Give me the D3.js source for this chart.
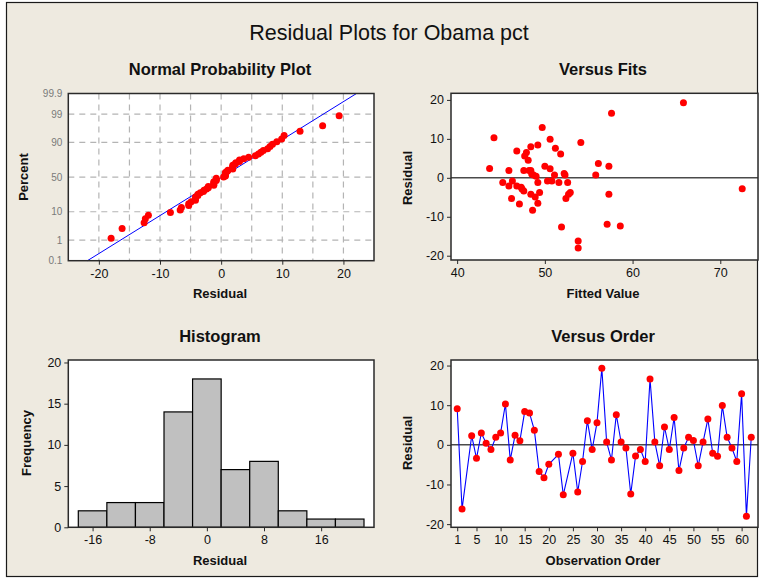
<!DOCTYPE html>
<html>
<head>
<meta charset="utf-8">
<script src="https://cdn.jsdelivr.net/npm/d3@7"></script>
<style>
  html, body { margin: 0; padding: 0; background: #ffffff; }
  svg { display: block; font-family: "Liberation Sans", Arial, sans-serif; }
</style>
</head>
<body>
<svg id="chart" width="765" height="578"></svg>
<script>
// ---- Regression diagnostics for "Obama pct" (62 observations, 3 missing) ----
const observationOrder = d3.range(1, 63);

const residuals = [
   9.1, -16.2,  null,   2.3,  -3.4,   3.0,   0.4,  -1.2,   1.9,   3.0,
  10.3,  -3.8,   2.4,   1.0,   8.4,   8.0,   3.7,  -6.7,  -8.3,  -4.9,
  null,  -2.4, -12.6,  null,  -2.1, -11.9,  -4.2,   6.1,  -1.2,   5.6,
  19.3,   0.7,  -3.8,   7.6,   0.7,  -0.8, -12.4,  -2.8,  -1.2,  -4.2,
  16.6,   0.7,  -5.3,   4.5,  -1.2,   6.9,  -6.5,  -0.8,   1.9,   1.1,
  -5.3,   0.7,   6.5,  -2.1,  -2.9,   9.9,   1.9,  -0.8,  -4.2,  12.9,
 -18.0,   1.9
];

const fittedValues = [
  54.1,  53.8,  null,  50.6,  47.6,  57.3,  49.0,  45.2,  45.9,  50.0,
  44.2,  49.4,  43.7,  48.5,  49.2,  48.4,  56.1,  47.1,  48.6,  48.9,
  null,  47.3,  51.9,  null,  45.9,  57.1,  48.4,  51.8,  49.2,  47.7,
  65.8,  51.1,  52.9,  51.2,  52.3,  46.3,  58.6,  72.5,  51.6,  52.7,
  57.6,  55.8,  52.4,  48.1,  52.6,  46.8,  49.2,  50.3,  48.2,  52.2,
  46.2,  48.7,  47.9,  46.8,  47.4,  50.6,  47.6,  50.8,  57.3,  49.7,
  53.8,  48.4
];

// Histogram of residuals: bin midpoints and frequencies
const histMidpoints = [-16, -12, -8, -4, 0, 4, 8, 12, 16, 20];
const histCounts    = [2, 3, 3, 14, 18, 7, 8, 2, 1, 1];
const histBinWidth  = 4;

// Tick values
const nppPercentTicks = [0.1, 1, 10, 50, 90, 99, 99.9];
const nppGridPercents = [1, 10, 50, 90, 99];
const nppXTicks       = [-20, -10, 0, 10, 20];
const nppXGrid        = [-20, -15, -10, -5, 0, 5, 10, 15, 20];
const fitsXTicks      = [40, 50, 60, 70];
const residTicks      = [-20, -10, 0, 10, 20];
const histXTicks      = [-16, -8, 0, 8, 16];
const histYTicks      = [0, 5, 10, 15, 20];
const orderXTicks     = [1, 5, 10, 15, 20, 25, 30, 35, 40, 45, 50, 55, 60];

// ---- helpers ----
// Inverse standard normal CDF (Acklam's rational approximation)
function probit(p) {
  const a = [-3.969683028665376e+01, 2.209460984245205e+02, -2.759285104469687e+02,
             1.383577518672690e+02, -3.066479806614716e+01, 2.506628277459239e+00];
  const b = [-5.447609879822406e+01, 1.615858368580409e+02, -1.556989798598866e+02,
             6.680131188771972e+01, -1.328068155288572e+01];
  const c = [-7.784894002430293e-03, -3.223964580411365e-01, -2.400758277161838e+00,
             -2.549732539343734e+00, 4.374664141464968e+00, 2.938163982698783e+00];
  const d = [7.784695709041462e-03, 3.224671290700398e-01, 2.445134137142996e+00,
             3.754408661907416e+00];
  const pl = 0.02425, ph = 1 - pl;
  let q, r;
  if (p < pl) {
    q = Math.sqrt(-2 * Math.log(p));
    return (((((c[0]*q+c[1])*q+c[2])*q+c[3])*q+c[4])*q+c[5]) /
           ((((d[0]*q+d[1])*q+d[2])*q+d[3])*q+1);
  }
  if (p <= ph) {
    q = p - 0.5; r = q * q;
    return (((((a[0]*r+a[1])*r+a[2])*r+a[3])*r+a[4])*r+a[5])*q /
           (((((b[0]*r+b[1])*r+b[2])*r+b[3])*r+b[4])*r+1);
  }
  q = Math.sqrt(-2 * Math.log(1 - p));
  return -(((((c[0]*q+c[1])*q+c[2])*q+c[3])*q+c[4])*q+c[5]) /
          ((((d[0]*q+d[1])*q+d[2])*q+d[3])*q+1);
}

const records = observationOrder.map((o, i) => ({ order: o, resid: residuals[i], fit: fittedValues[i] }))
  .filter(d => d.resid != null);

const BG = "#eeeae0";
const FRAME = "#2a2a2a";
const RED = "#ff0000";
const BLUE = "#0000ff";
const TICK_FONT = 12.5;
const intFmt = d => String(d);   // plain hyphen-minus labels

const svg = d3.select("#chart");

// page background and outer frame
svg.append("rect").attr("x", 0).attr("y", 0).attr("width", 765).attr("height", 578).attr("fill", "#ffffff");
svg.append("rect").attr("x", 6.5).attr("y", 2.5).attr("width", 751).attr("height", 574)
  .attr("fill", BG).attr("stroke", "#1a1a1a").attr("stroke-width", 1.2);

svg.append("text").attr("x", 389).attr("y", 40).attr("text-anchor", "middle")
  .attr("font-size", 21.5).attr("fill", "#111").text("Residual Plots for Obama pct");

// generic panel helpers
function panel(x0, x1, y0, y1) {
  const g = svg.append("g");
  g.append("rect").attr("x", x0).attr("y", y0).attr("width", x1 - x0).attr("height", y1 - y0)
    .attr("fill", "#ffffff");
  return g;
}
function frame(g, x0, x1, y0, y1) {
  g.append("rect").attr("x", x0).attr("y", y0).attr("width", x1 - x0).attr("height", y1 - y0)
    .attr("fill", "none").attr("stroke", FRAME).attr("stroke-width", 1.5);
}
function styleAxis(sel) {
  sel.select(".domain").remove();
  sel.selectAll(".tick line").attr("stroke", FRAME).attr("stroke-width", 1);
  sel.selectAll(".tick text").attr("font-size", TICK_FONT).attr("fill", "#111")
    .attr("font-family", "'Liberation Sans', Arial, sans-serif");
}
function panelTitle(x, y, txt) {
  svg.append("text").attr("x", x).attr("y", y).attr("text-anchor", "middle")
    .attr("font-size", 16.5).attr("font-weight", "bold").attr("fill", "#111").text(txt);
}
function xLabel(x, y, txt) {
  svg.append("text").attr("x", x).attr("y", y).attr("text-anchor", "middle")
    .attr("font-size", 13).attr("font-weight", "bold").attr("fill", "#111").text(txt);
}
function yLabel(x, y, txt) {
  svg.append("text").attr("transform", `translate(${x},${y}) rotate(-90)`).attr("text-anchor", "middle")
    .attr("font-size", 13).attr("font-weight", "bold").attr("fill", "#111").text(txt);
}

// ================= Normal Probability Plot =================
{
  const L = 68.3, R = 374, T = 93.5, B = 260.7;
  const x = d3.scaleLinear().domain([-25, 25]).range([L, R]);
  const y = d3.scaleLinear().domain([probit(0.001), probit(0.999)]).range([B, T]);
  const g = panel(L, R, T, B);

  // dashed grid
  g.selectAll("line.vg").data(nppXGrid).join("line").attr("class", "vg")
    .attr("x1", d => x(d)).attr("x2", d => x(d)).attr("y1", T).attr("y2", B)
    .attr("stroke", "#b4b4b4").attr("stroke-width", 1.2).attr("stroke-dasharray", "6,5");
  g.selectAll("line.hg").data(nppGridPercents).join("line").attr("class", "hg")
    .attr("x1", L).attr("x2", R).attr("y1", d => y(probit(d / 100))).attr("y2", d => y(probit(d / 100)))
    .attr("stroke", "#b4b4b4").attr("stroke-width", 1.2).attr("stroke-dasharray", "6,5");

  // sorted residuals against median-rank percentages
  const sorted = records.map(d => d.resid).sort(d3.ascending);
  const n = sorted.length;
  const pts = sorted.map((v, i) => ({ v, z: probit((i + 1 - 0.3) / (n + 0.4)) }));
  const mu = d3.mean(sorted), sd = d3.deviation(sorted);

  // fitted normal reference line across the full probability range
  const zLo = probit(0.001), zHi = probit(0.999);
  g.append("line")
    .attr("x1", x(mu + sd * zLo)).attr("y1", y(zLo))
    .attr("x2", x(mu + sd * zHi)).attr("y2", y(zHi))
    .attr("stroke", BLUE).attr("stroke-width", 1);

  g.selectAll("circle").data(pts).join("circle")
    .attr("cx", d => x(d.v)).attr("cy", d => y(d.z)).attr("r", 3.5).attr("fill", RED);

  frame(g, L, R, T, B);

  const ax = svg.append("g").attr("transform", `translate(0,${B})`)
    .call(d3.axisBottom(x).tickValues(nppXTicks).tickSize(4).tickPadding(4).tickFormat(intFmt));
  styleAxis(ax);
  const ay = svg.append("g").attr("transform", `translate(${L},0)`)
    .call(d3.axisLeft(y)
      .tickValues(nppPercentTicks.map(p => probit(p / 100))).tickSize(0).tickPadding(6)
      .tickFormat((d, i) => String(nppPercentTicks[i])));
  styleAxis(ay);
  ay.selectAll(".tick text").attr("font-size", 10).attr("fill", "#7a7a7a");

  panelTitle(220, 75, "Normal Probability Plot");
  xLabel(220, 298, "Residual");
  yLabel(28, 177, "Percent");
}

// ================= Versus Fits =================
{
  const L = 451, R = 758, T = 93.3, B = 260;
  const x = d3.scaleLinear().domain([39.3, 74.3]).range([L, R]);
  const y = d3.scaleLinear().domain([-21.1, 21.7]).range([B, T]);
  const g = panel(L, R, T, B);

  g.append("line").attr("x1", L).attr("x2", R).attr("y1", y(0)).attr("y2", y(0))
    .attr("stroke", "#4a4a4a").attr("stroke-width", 1.5);

  g.selectAll("circle").data(records).join("circle")
    .attr("cx", d => x(d.fit)).attr("cy", d => y(d.resid)).attr("r", 3.5).attr("fill", RED);

  frame(g, L, R, T, B);

  const ax = svg.append("g").attr("transform", `translate(0,${B})`)
    .call(d3.axisBottom(x).tickValues(fitsXTicks).tickSize(4).tickPadding(4).tickFormat(intFmt));
  styleAxis(ax);
  const ay = svg.append("g").attr("transform", `translate(${L},0)`)
    .call(d3.axisLeft(y).tickValues(residTicks).tickSize(4).tickPadding(3).tickFormat(intFmt));
  styleAxis(ay);

  panelTitle(603, 75, "Versus Fits");
  xLabel(603, 298, "Fitted Value");
  yLabel(412, 178, "Residual");
}

// ================= Histogram =================
{
  const L = 68.3, R = 374, T = 360, B = 527.3;
  const x = d3.scaleLinear().domain([-19.4, 23.4]).range([L, R]);
  const y = d3.scaleLinear().domain([0, 20.3]).range([B, T]);
  const g = panel(L, R, T, B);

  g.selectAll("rect.bar").data(histMidpoints).join("rect").attr("class", "bar")
    .attr("x", d => x(d - histBinWidth / 2))
    .attr("width", d => x(d + histBinWidth / 2) - x(d - histBinWidth / 2))
    .attr("y", (d, i) => y(histCounts[i]))
    .attr("height", (d, i) => y(0) - y(histCounts[i]))
    .attr("fill", "#c0c0c0").attr("stroke", "#000").attr("stroke-width", 1.2);

  frame(g, L, R, T, B);

  const ax = svg.append("g").attr("transform", `translate(0,${B})`)
    .call(d3.axisBottom(x).tickValues(histXTicks).tickSize(4).tickPadding(4).tickFormat(intFmt));
  styleAxis(ax);
  const ay = svg.append("g").attr("transform", `translate(${L},0)`)
    .call(d3.axisLeft(y).tickValues(histYTicks).tickSize(4).tickPadding(3).tickFormat(intFmt));
  styleAxis(ay);

  panelTitle(220, 342, "Histogram");
  xLabel(220, 565, "Residual");
  yLabel(31, 443, "Frequency");
}

// ================= Versus Order =================
{
  const L = 451, R = 758, T = 360, B = 527.3;
  const x = d3.scaleLinear().domain([-0.29, 63.4]).range([L, R]);
  const y = d3.scaleLinear().domain([-20.8, 21.4]).range([B, T]);
  const g = panel(L, R, T, B);

  g.append("line").attr("x1", L).attr("x2", R).attr("y1", y(0)).attr("y2", y(0))
    .attr("stroke", "#4a4a4a").attr("stroke-width", 1.5);

  g.append("path").datum(records)
    .attr("d", d3.line().x(d => x(d.order)).y(d => y(d.resid)))
    .attr("fill", "none").attr("stroke", BLUE).attr("stroke-width", 1.1);

  g.selectAll("circle").data(records).join("circle")
    .attr("cx", d => x(d.order)).attr("cy", d => y(d.resid)).attr("r", 3.5).attr("fill", RED);

  frame(g, L, R, T, B);

  const ax = svg.append("g").attr("transform", `translate(0,${B})`)
    .call(d3.axisBottom(x).tickValues(orderXTicks).tickSize(4).tickPadding(4).tickFormat(intFmt));
  styleAxis(ax);
  const ay = svg.append("g").attr("transform", `translate(${L},0)`)
    .call(d3.axisLeft(y).tickValues(residTicks).tickSize(4).tickPadding(3).tickFormat(intFmt));
  styleAxis(ay);

  panelTitle(603, 342, "Versus Order");
  xLabel(603, 565, "Observation Order");
  yLabel(412, 443, "Residual");
}
</script>
</body>
</html>
